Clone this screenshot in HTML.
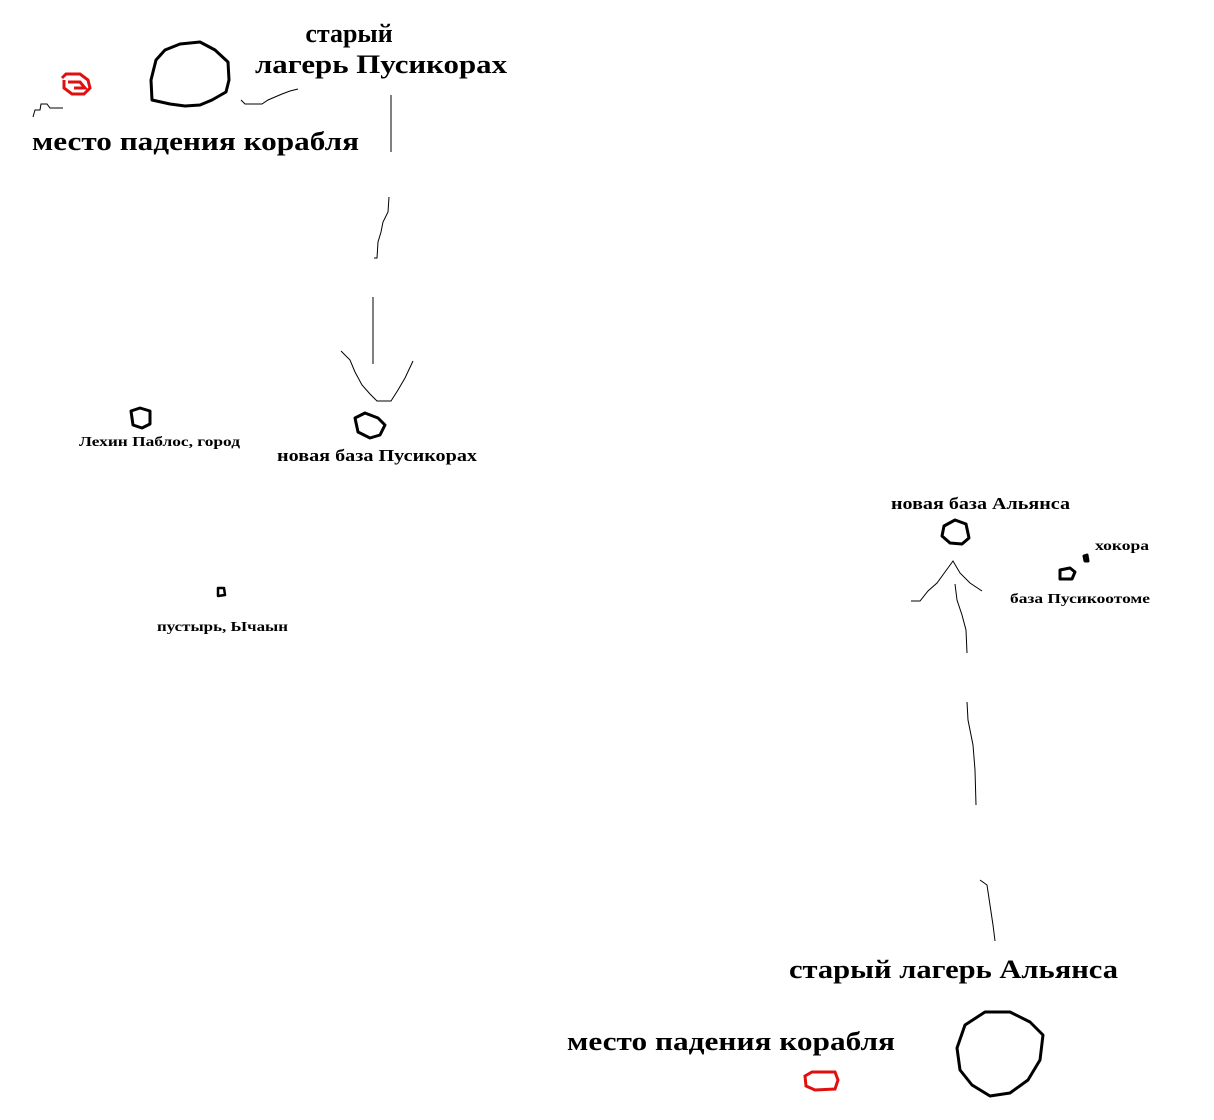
<!DOCTYPE html>
<html><head><meta charset="utf-8"><style>
html,body{margin:0;padding:0;background:#fff;width:1214px;height:1120px;overflow:hidden}
text{font-family:"Liberation Serif","DejaVu Serif",serif;font-weight:bold;fill:#000}
</style></head><body>
<svg width="1214" height="1120" viewBox="0 0 1214 1120" xmlns="http://www.w3.org/2000/svg">
<g fill="none" stroke="#000" stroke-width="3" stroke-linejoin="round">
<path d="M156,60 L165,50 L180,44 L200,42 L215,50 L228,62 L229,80 L226,92 L212,100 L200,105 L185,106 L170,104 L152,100 L151,80 Z"/>
<path d="M131,411 L140,408 L150,411 L150,424 L142,428 L133,425 Z"/>
<path d="M355,418 L365,413 L378,418 L385,425 L380,435 L370,438 L358,432 Z"/>
<path d="M218,588 L224,588 L225,595 L218,596 Z" stroke-width="2.5"/>
<path d="M944,526 L955,520 L966,524 L969,538 L962,544 L950,543 L942,536 Z"/>
<path d="M1060,570 L1070,568 L1075,572 L1072,579 L1060,579 Z"/>
<path d="M1084,556 L1087,555 L1088,561 L1085,561 Z" stroke-width="3"/>
<path d="M965,1025 L985,1012 L1010,1012 L1030,1022 L1043,1035 L1040,1060 L1028,1080 L1010,1093 L990,1096 L972,1085 L960,1070 L957,1048 Z"/>
</g>
<g fill="none" stroke="#000" stroke-width="1">
<path d="M33,117 L35,110 L40,110 L41,104 L47,104 L50,108 L63,108"/>
<path d="M241,100 L245,104 L262,104 L268,100 L275,97 L282,94 L290,91 L298,89"/>
<path d="M391,95 L391,152"/>
<path d="M389,197 L388,212 L383,222 L381,232 L378,242 L377,258 L374,258"/>
<path d="M373,297 L373,364"/>
<path d="M341,351 L350,360 L355,372 L362,385 L370,394 L377,401 L391,401 L398,390 L405,378 L413,361"/>
<path d="M911,601 L920,601 L928,591 L937,583 L945,572 L953,561 L960,573 L970,583 L982,591"/>
<path d="M955,584 L957,600 L962,615 L966,630 L967,653"/>
<path d="M967,702 L968,720 L973,745 L975,770 L976,805"/>
<path d="M980,880 L987,885 L990,905 L993,925 L995,941"/>
</g>
<g fill="none" stroke="#e01010" stroke-width="3">
<path d="M62,78 L66,74 L80,74 L88,80 L90,88 L84,94 L72,94 L64,88 L64,80"/>
<path d="M68,82 L80,82 L85,88 L74,88"/>
<path d="M805,1076 L812,1072 L835,1072 L838,1080 L835,1089 L815,1090 L806,1086 Z"/>
</g>
<text x="349" y="42" font-size="26" text-anchor="middle">старый</text>
<text x="255" y="73" font-size="26" textLength="252" lengthAdjust="spacingAndGlyphs">лагерь Пусикорах</text>
<text x="32" y="150" font-size="26" textLength="327" lengthAdjust="spacingAndGlyphs">место падения корабля</text>
<text x="79" y="446" font-size="14" textLength="161" lengthAdjust="spacingAndGlyphs">Лехин Паблос, город</text>
<text x="277" y="461" font-size="17" textLength="200" lengthAdjust="spacingAndGlyphs">новая база Пусикорах</text>
<text x="157" y="631" font-size="14" textLength="131" lengthAdjust="spacingAndGlyphs">пустырь, Ычаын</text>
<text x="891" y="509" font-size="17" textLength="179" lengthAdjust="spacingAndGlyphs">новая база Альянса</text>
<text x="1095" y="550" font-size="14" textLength="54" lengthAdjust="spacingAndGlyphs">хокора</text>
<text x="1010" y="603" font-size="14" textLength="140" lengthAdjust="spacingAndGlyphs">база Пусикоотоме</text>
<text x="789" y="978" font-size="26" textLength="329" lengthAdjust="spacingAndGlyphs">старый лагерь Альянса</text>
<text x="567" y="1050" font-size="26" textLength="328" lengthAdjust="spacingAndGlyphs">место падения корабля</text>
</svg>
</body></html>
